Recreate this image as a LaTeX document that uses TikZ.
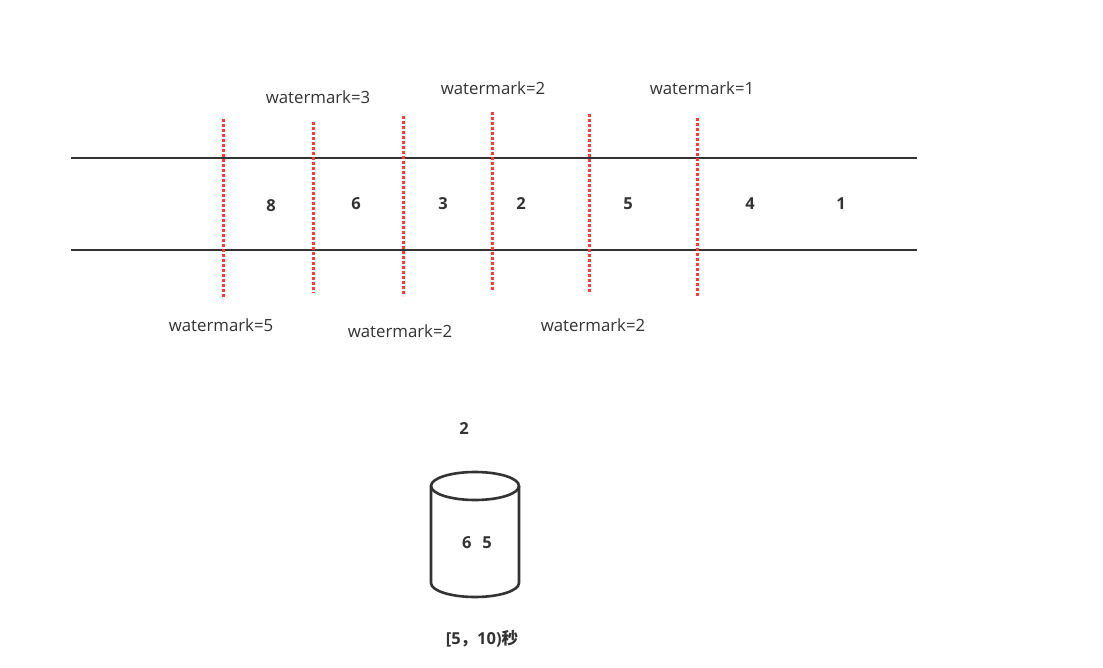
\documentclass[tikz,border=0pt]{standalone}
\usepackage{fontspec}
\setmainfont{Open Sans}
\newfontfamily\cjk{Noto Sans CJK SC}
\definecolor{ink}{HTML}{333333}
\definecolor{wm}{HTML}{FF3B3B}
\begin{document}
\begin{tikzpicture}[x=1pt,y=-1pt,
  track/.style={draw=ink,line width=2.8pt},
  wmline/.style={draw=wm,line width=3pt,dash pattern=on 2.6pt off 2.4pt},
  wmlab/.style={text=ink,font=\fontsize{16.8}{19}\selectfont,inner sep=0pt},
  num/.style={text=ink,font=\fontsize{16.5}{19}\selectfont\bfseries,inner sep=0pt}]
\useasboundingbox[fill=white] (0,0) rectangle (1103,668);
% tracks
\coordinate (t1) at (71,158); \coordinate (t2) at (917,158);
\coordinate (b1) at (71,250); \coordinate (b2) at (917,250);
\draw[track] (t1) -- (t2);
\draw[track] (b1) -- (b2);
% watermark lines
\foreach \n/\x/\ya/\yb in {a/223/119/298,b/313/122/293,c/403/116/296,d/492/112/291,e/589/114/294,f/697/118/297}{
  \coordinate (\n1) at (\x,\ya); \coordinate (\n2) at (\x,\yb);
  \draw[wmline] (\n1) -- (\n2);
}
% watermark labels
\node[wmlab] (w3) at (318,97) {watermark=3};
\node[wmlab] (w2a) at (493,88) {watermark=2};
\node[wmlab] (w1) at (702,88) {watermark=1};
\node[wmlab] (w5) at (221,325) {watermark=5};
\node[wmlab] (w2b) at (400,331) {watermark=2};
\node[wmlab] (w2c) at (593,325) {watermark=2};
% event numbers
\node[num] (n8) at (271,206) {8};
\node[num] (n6) at (356,204) {6};
\node[num] (n3) at (443,204) {3};
\node[num] (n2) at (521,204) {2};
\node[num] (n5) at (628,204) {5};
\node[num] (n4) at (750,204) {4};
\node[num] (n1) at (841,204) {1};
% window
\node[num] (late) at (464,429) {2};
\draw[ink,line width=2.6pt] (431,486) -- (431,583) arc[start angle=180,end angle=0,x radius=44,y radius=14] -- (519,486);
\draw[ink,line width=2.6pt] (475,486) ellipse[x radius=44,y radius=14];
\node[num] (inwin) at (477,543) {6\hspace{0.65em}5};
\node[num] (winlab) at (482,639) {[5{\cjk\bfseries，}10)\cjk\bfseries 秒};
\end{tikzpicture}
\end{document}
